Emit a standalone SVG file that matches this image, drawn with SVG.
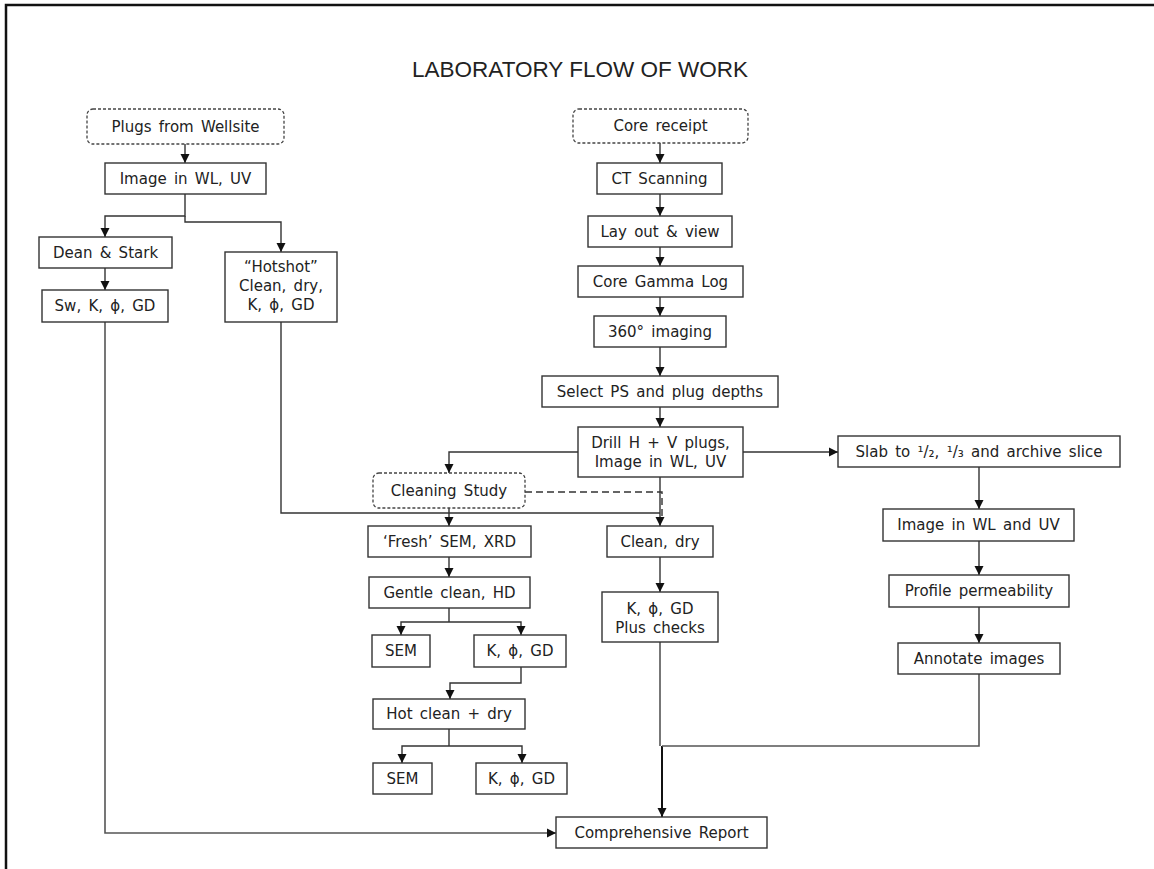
<svg xmlns="http://www.w3.org/2000/svg" width="1154" height="869" viewBox="0 0 1154 869">
<style>
.b{fill:#fff;stroke:#333;stroke-width:1.4}
.d{fill:#fff;stroke:#444;stroke-width:1.3;stroke-dasharray:3 2}
.t{font-family:"DejaVu Sans",Verdana,sans-serif;font-size:15px;word-spacing:2.5px;fill:#222;text-anchor:middle}
.c{fill:none;stroke:#333;stroke-width:1.4}
.g{fill:none;stroke:#555;stroke-width:1.6}
</style>
<defs>
<marker id="a" viewBox="0 0 10 10" refX="10" refY="5" markerWidth="9" markerHeight="10" markerUnits="userSpaceOnUse" orient="auto">
<path d="M0,0 L10,5 L0,10 z" fill="#111"/>
</marker>
</defs>
<rect width="1154" height="869" fill="#fff"/>
<path d="M6,869 V5 H1154" fill="none" stroke="#111" stroke-width="2.5"/>
<text x="580" y="77" font-family="Liberation Sans,Arial,sans-serif" font-size="22.5" fill="#222" text-anchor="middle">LABORATORY FLOW OF WORK</text>

<g id="connectors">
<path class="c" d="M185,144 V163" marker-end="url(#a)"/>
<path class="c" d="M185,194 V216 H105 V237" marker-end="url(#a)"/>
<path class="c" d="M185,216 V222 H281 V252" marker-end="url(#a)"/>
<path class="c" d="M105,268 V290" marker-end="url(#a)"/>
<path class="g" d="M105,322 V833 H556" marker-end="url(#a)"/>
<path class="c" d="M660,143 V163" marker-end="url(#a)"/>
<path class="c" d="M660,194 V216" marker-end="url(#a)"/>
<path class="c" d="M660,247 V266" marker-end="url(#a)"/>
<path class="c" d="M660,297 V316" marker-end="url(#a)"/>
<path class="c" d="M660,347 V376" marker-end="url(#a)"/>
<path class="c" d="M660,407 V427" marker-end="url(#a)"/>
<path class="c" d="M578,452 H449 V473" marker-end="url(#a)"/>
<path class="c" d="M743,452 H838" marker-end="url(#a)"/>
<path class="c" d="M660,477 V526" marker-end="url(#a)"/>
<path fill="none" stroke="#333" stroke-width="1.4" stroke-dasharray="7 4" d="M525,492 H662 V520"/>
<path class="c" d="M281,322 V513 H660"/>
<path class="c" d="M449,508 V526" marker-end="url(#a)"/>
<path class="c" d="M449,557 V577" marker-end="url(#a)"/>
<path class="c" d="M449,608 V622"/>
<path class="c" d="M449,622 H401 V635" marker-end="url(#a)"/>
<path class="c" d="M449,622 H521 V635" marker-end="url(#a)"/>
<path class="c" d="M521,667 V683 H450 V699" marker-end="url(#a)"/>
<path class="c" d="M449,729 V746"/>
<path class="c" d="M449,746 H402 V763" marker-end="url(#a)"/>
<path class="c" d="M449,746 H522 V763" marker-end="url(#a)"/>
<path class="c" d="M660,557 V592" marker-end="url(#a)"/>
<path class="g" d="M660,642 V746"/>
<path fill="none" stroke="#111" stroke-width="2" d="M662,746 V817" marker-end="url(#a)"/>
<path class="g" d="M979,674 V746 H662"/>
<path class="c" d="M979,467 V509" marker-end="url(#a)"/>
<path class="c" d="M979,541 V575" marker-end="url(#a)"/>
<path class="c" d="M979,607 V643" marker-end="url(#a)"/>
</g>

<g id="plugs"><rect class="d" x="87" y="109" width="197" height="35" rx="6"/><text class="t" x="185.5" y="132">Plugs from Wellsite</text></g>
<g id="img1"><rect class="b" x="105" y="163" width="161" height="31"/><text class="t" x="185.5" y="184">Image in WL, UV</text></g>
<g id="dean"><rect class="b" x="39" y="237" width="133" height="31"/><text class="t" x="105.5" y="258">Dean &amp; Stark</text></g>
<g id="sw"><rect class="b" x="42" y="290" width="126" height="32"/><text class="t" x="105" y="311">Sw, K, ϕ, GD</text></g>
<g id="hotshot"><rect class="b" x="225" y="252" width="112" height="70"/><text class="t" x="281" y="272">“Hotshot”</text><text class="t" x="281" y="291">Clean, dry,</text><text class="t" x="281" y="310">K, ϕ, GD</text></g>
<g id="core"><rect class="d" x="573" y="109" width="175" height="34" rx="6"/><text class="t" x="660.5" y="131">Core receipt</text></g>
<g id="ct"><rect class="b" x="597" y="163" width="125" height="31"/><text class="t" x="659.5" y="184">CT Scanning</text></g>
<g id="layout"><rect class="b" x="588" y="216" width="144" height="31"/><text class="t" x="660" y="237">Lay out &amp; view</text></g>
<g id="gamma"><rect class="b" x="578" y="266" width="165" height="31"/><text class="t" x="660.5" y="287">Core Gamma Log</text></g>
<g id="img360"><rect class="b" x="594" y="316" width="132" height="31"/><text class="t" x="660" y="337">360° imaging</text></g>
<g id="select"><rect class="b" x="542" y="376" width="236" height="31"/><text class="t" x="660" y="397">Select PS and plug depths</text></g>
<g id="drill"><rect class="b" x="578" y="427" width="165" height="50"/><text class="t" x="660.5" y="448">Drill H + V plugs,</text><text class="t" x="660.5" y="467">Image in WL, UV</text></g>
<g id="cleaning"><rect class="d" x="373" y="473" width="152" height="35" rx="6"/><text class="t" x="449" y="496">Cleaning Study</text></g>
<g id="fresh"><rect class="b" x="368" y="526" width="163" height="31"/><text class="t" x="449.5" y="547">‘Fresh’ SEM, XRD</text></g>
<g id="cleandry"><rect class="b" x="607" y="526" width="106" height="31"/><text class="t" x="660" y="547">Clean, dry</text></g>
<g id="gentle"><rect class="b" x="369" y="577" width="161" height="31"/><text class="t" x="449.5" y="598">Gentle clean, HD</text></g>
<g id="sem1"><rect class="b" x="372" y="635" width="58" height="32"/><text class="t" x="401" y="656">SEM</text></g>
<g id="k1"><rect class="b" x="474" y="635" width="92" height="32"/><text class="t" x="520" y="656">K, ϕ, GD</text></g>
<g id="hot"><rect class="b" x="373" y="699" width="152" height="30"/><text class="t" x="449" y="719">Hot clean + dry</text></g>
<g id="sem2"><rect class="b" x="373" y="763" width="59" height="31"/><text class="t" x="402.5" y="784">SEM</text></g>
<g id="k2"><rect class="b" x="476" y="763" width="91" height="31"/><text class="t" x="521.5" y="784">K, ϕ, GD</text></g>
<g id="kplus"><rect class="b" x="602" y="592" width="116" height="50"/><text class="t" x="660" y="614">K, ϕ, GD</text><text class="t" x="660" y="633">Plus checks</text></g>
<g id="slab"><rect class="b" x="838" y="436" width="282" height="31"/><text class="t" x="979" y="457">Slab to ¹/₂, ¹/₃ and archive slice</text></g>
<g id="imgwl"><rect class="b" x="883" y="509" width="191" height="32"/><text class="t" x="978.5" y="530">Image in WL and UV</text></g>
<g id="profile"><rect class="b" x="889" y="575" width="180" height="32"/><text class="t" x="979" y="596">Profile permeability</text></g>
<g id="annotate"><rect class="b" x="898" y="643" width="162" height="31"/><text class="t" x="979" y="664">Annotate images</text></g>
<g id="report"><rect class="b" x="556" y="817" width="211" height="31"/><text class="t" x="661.5" y="838">Comprehensive Report</text></g>
</svg>
